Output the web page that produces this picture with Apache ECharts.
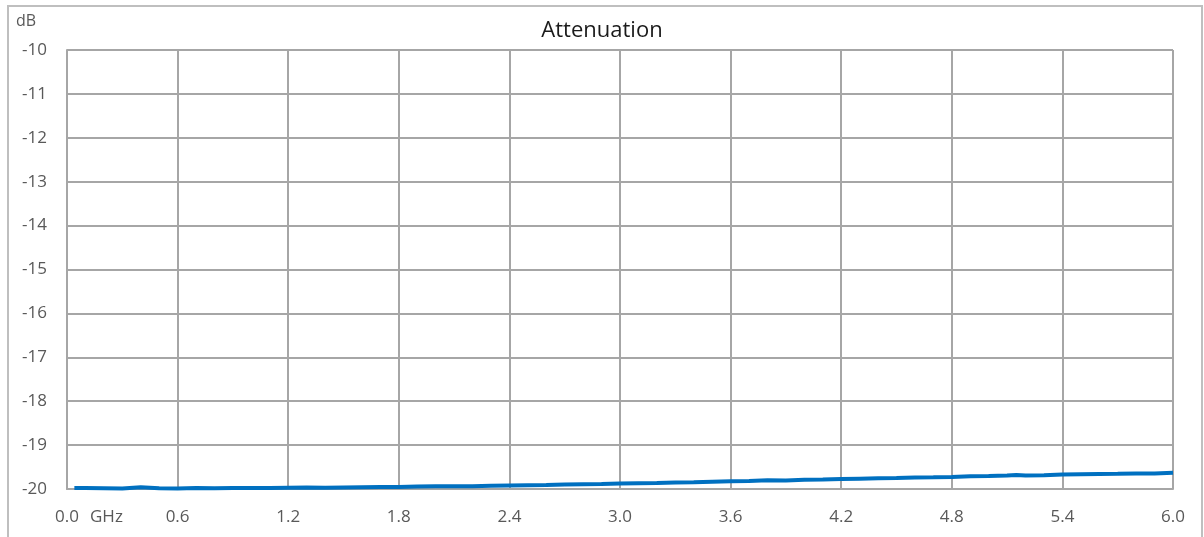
<!DOCTYPE html>
<html>
<head>
<meta charset="utf-8">
<script src="https://cdn.jsdelivr.net/npm/echarts@6/dist/echarts.min.js"></script>
<style>
html,body{margin:0;padding:0;background:#fff;}
#main{width:1204px;height:537px;}
</style>
</head>
<body>
<div id="main"></div>
<script>
const freqGHz = [0.04,0.1,0.2,0.3,0.4,0.5,0.6,0.7,0.8,0.9,1.0,1.1,1.2,1.3,1.4,1.5,1.6,1.7,1.8,1.9,2.0,2.1,2.2,2.3,2.4,2.5,2.6,2.7,2.8,2.9,3.0,3.1,3.2,3.3,3.4,3.5,3.6,3.7,3.8,3.9,4.0,4.1,4.2,4.3,4.4,4.5,4.6,4.7,4.8,4.9,5.0,5.1,5.15,5.2,5.3,5.4,5.5,5.6,5.7,5.8,5.9,6.0];
const attenuationDb = [-19.98,-19.98,-19.985,-19.99,-19.96,-19.985,-19.99,-19.98,-19.985,-19.975,-19.98,-19.975,-19.97,-19.965,-19.97,-19.965,-19.96,-19.955,-19.955,-19.945,-19.94,-19.935,-19.935,-19.925,-19.92,-19.915,-19.91,-19.9,-19.89,-19.885,-19.875,-19.87,-19.865,-19.85,-19.845,-19.835,-19.825,-19.815,-19.8,-19.805,-19.79,-19.785,-19.775,-19.765,-19.755,-19.75,-19.74,-19.735,-19.725,-19.71,-19.705,-19.695,-19.68,-19.695,-19.685,-19.67,-19.665,-19.66,-19.655,-19.645,-19.645,-19.63];
const chartTitle = "Attenuation";
const yUnit = "dB";
const xUnit = "GHz";

const font = "'Open Sans', Lato, sans-serif";
const chart = echarts.init(document.getElementById('main'));
const seriesData = freqGHz.map((f,i)=>[f, attenuationDb[i]]);
chart.setOption({
  animation:false,
  backgroundColor:'#fff',
  title:{text:chartTitle, left:'center', top:15, textStyle:{fontFamily:font, fontSize:22, fontWeight:'normal', color:'#1a1a1a'}},
  grid:{left:67, right:31, top:50, bottom:48, containLabel:false},
  xAxis:{type:'value', min:0, max:6, interval:0.6,
    axisLine:{show:true, lineStyle:{color:'#a6a6a6', width:2}},
    axisTick:{show:false},
    axisLabel:{margin:20, fontFamily:font, fontSize:17, color:'#595959', formatter:v=>v.toFixed(1)},
    splitLine:{show:true, lineStyle:{color:'#a6a6a6', width:2}}
  },
  yAxis:{type:'value', min:-20, max:-10, interval:1,
    axisLine:{show:true, lineStyle:{color:'#a6a6a6', width:2}},
    axisTick:{show:false},
    axisLabel:{margin:20, fontFamily:font, fontSize:17, color:'#595959'},
    splitLine:{show:true, lineStyle:{color:'#a6a6a6', width:2}}
  },
  series:[{type:'line', data:seriesData, showSymbol:false, smooth:false,
    lineStyle:{color:'#0070c0', width:4}, itemStyle:{color:'#0070c0'}}],
  graphic:[
    {type:'rect', shape:{x:8, y:6, width:1194, height:540}, style:{fill:null, stroke:'#bfbfbf', lineWidth:2}, silent:true, z:-1},
    {type:'line', shape:{x1:1173, y1:50, x2:1173, y2:489}, style:{stroke:'#a6a6a6', lineWidth:2}, silent:true},
    {type:'text', left:16, top:13, style:{text:yUnit, fontFamily:font, fontSize:16, fill:'#595959'}},
    {type:'text', left:90, top:509, style:{text:xUnit, fontFamily:font, fontSize:17, fill:'#595959'}}
  ]
});
</script>
</body>
</html>
